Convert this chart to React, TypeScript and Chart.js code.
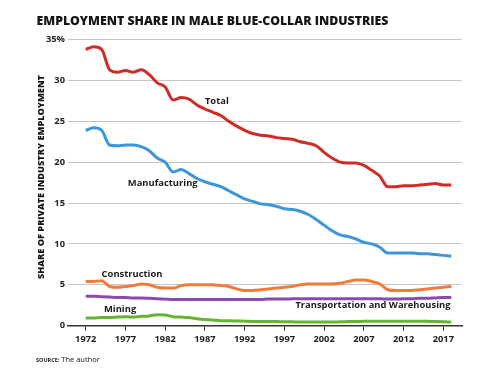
import React, { useEffect, useRef } from "react";
import { Chart, registerables } from "chart.js";

Chart.register(...registerables);

const years = [
  1972, 1973, 1974, 1975, 1976, 1977, 1978, 1979, 1980, 1981, 1982, 1983, 1984, 1985, 1986, 1987,
  1988, 1989, 1990, 1991, 1992, 1993, 1994, 1995, 1996, 1997, 1998, 1999, 2000, 2001, 2002, 2003,
  2004, 2005, 2006, 2007, 2008, 2009, 2010, 2011, 2012, 2013, 2014, 2015, 2016, 2017, 2018,
];

const total = [
  33.8, 34.1, 33.8, 31.3, 31.0, 31.2, 31.0, 31.3, 30.7, 29.7, 29.2, 27.6, 27.9, 27.7, 27.0, 26.5,
  26.1, 25.7, 25.0, 24.4, 23.9, 23.5, 23.3, 23.2, 23.0, 22.9, 22.8, 22.5, 22.3, 22.0, 21.2, 20.5,
  20.0, 19.9, 19.9, 19.6, 19.0, 18.3, 17.0, 17.0, 17.1, 17.1, 17.2, 17.3, 17.4, 17.2, 17.2,
];

const manufacturing = [
  23.9, 24.2, 23.9, 22.1, 22.0, 22.1, 22.1, 21.9, 21.4, 20.5, 20.0, 18.8, 19.1, 18.6, 18.0, 17.6,
  17.3, 17.0, 16.5, 16.0, 15.5, 15.2, 14.9, 14.8, 14.6, 14.3, 14.2, 14.0, 13.6, 13.0, 12.3, 11.6,
  11.1, 10.9, 10.6, 10.2, 10.0, 9.6, 8.9, 8.9, 8.9, 8.9, 8.8, 8.8, 8.7, 8.6, 8.5,
];

const construction = [
  5.4, 5.4, 5.5, 4.8, 4.7, 4.8, 4.9, 5.1, 5.0, 4.7, 4.6, 4.6, 4.9, 5.0, 5.0, 5.0,
  5.0, 4.9, 4.8, 4.5, 4.3, 4.3, 4.4, 4.5, 4.6, 4.7, 4.8, 5.0, 5.1, 5.1, 5.1, 5.1,
  5.2, 5.4, 5.6, 5.6, 5.4, 5.1, 4.4, 4.3, 4.3, 4.3, 4.4, 4.5, 4.6, 4.7, 4.8,
];

const transportation = [
  3.6, 3.6, 3.55, 3.5, 3.45, 3.45, 3.4, 3.4, 3.35, 3.3, 3.25, 3.2, 3.2, 3.2, 3.2, 3.2,
  3.2, 3.2, 3.2, 3.2, 3.2, 3.2, 3.2, 3.25, 3.25, 3.25, 3.3, 3.3, 3.3, 3.3, 3.3, 3.3,
  3.3, 3.3, 3.3, 3.3, 3.3, 3.3, 3.25, 3.25, 3.3, 3.3, 3.35, 3.35, 3.4, 3.45, 3.45,
];

const mining = [
  0.95, 0.95, 1.0, 1.0, 1.05, 1.1, 1.05, 1.15, 1.2, 1.35, 1.3, 1.1, 1.05, 1.0, 0.85, 0.75,
  0.7, 0.6, 0.6, 0.58, 0.55, 0.52, 0.5, 0.5, 0.5, 0.48, 0.47, 0.45, 0.45, 0.45, 0.45, 0.45,
  0.47, 0.5, 0.52, 0.53, 0.55, 0.55, 0.55, 0.55, 0.55, 0.55, 0.55, 0.55, 0.5, 0.47, 0.45,
];

const tickYears = [1972, 1977, 1982, 1987, 1992, 1997, 2002, 2007, 2012, 2017];
const yTicks = [0, 5, 10, 15, 20, 25, 30, 35];

const seriesLabels = [
  { text: "Total", year: 1987.0, value: 27.4, align: "left" },
  { text: "Manufacturing", year: 1977.3, value: 17.45, align: "left" },
  { text: "Construction", year: 1974.0, value: 6.3, align: "left" },
  { text: "Mining", year: 1974.3, value: 2.05, align: "left" },
  { text: "Transportation and Warehousing", year: 2017.9, value: 2.45, align: "right" },
];

const FONT = "'Open Sans', 'DejaVu Sans', sans-serif";

const toPoints = (vals: number[]) => vals.map((v, i) => ({ x: years[i], y: v }));

export default function App() {
  const ref = useRef<HTMLCanvasElement | null>(null);

  useEffect(() => {
    if (!ref.current) return;

    const overlay = {
      id: "overlay",
      afterDraw(chart: any) {
        const ctx = chart.ctx;
        const xs = chart.scales.x;
        const ys = chart.scales.y;
        ctx.save();
        // title
        ctx.fillStyle = "#151515";
        ctx.font = `800 12.3px ${FONT}`;
        ctx.textBaseline = "middle";
        ctx.textAlign = "left";
        ctx.fillText("EMPLOYMENT SHARE IN MALE BLUE-COLLAR INDUSTRIES", 36.5, 21);
        // y title
        ctx.save();
        ctx.translate(41.5, 177);
        ctx.rotate(-Math.PI / 2);
        ctx.textAlign = "center";
        ctx.font = `800 9.2px ${FONT}`;
        ctx.fillText("SHARE OF PRIVATE INDUSTRY EMPLOYMENT", 0, 0);
        ctx.restore();
        // series labels
        ctx.font = `bold 9.4px ${FONT}`;
        ctx.fillStyle = "#1a1a1a";
        for (const l of seriesLabels) {
          ctx.textAlign = l.align as CanvasTextAlign;
          ctx.fillText(l.text, xs.getPixelForValue(l.year), ys.getPixelForValue(l.value));
        }
        // source
        ctx.textAlign = "left";
        ctx.font = `bold 5.5px ${FONT}`;
        const s1 = "SOURCE:";
        ctx.fillText(s1, 36, 360);
        const w = ctx.measureText(s1).width;
        ctx.font = `7.5px ${FONT}`;
        ctx.fillText(" The author", 36 + w, 360);
        ctx.restore();
      },
    };

    const mk = (label: string, vals: number[], color: string) => ({
      label,
      data: toPoints(vals),
      borderColor: color,
      backgroundColor: color,
      borderWidth: 3,
      pointRadius: 0,
      cubicInterpolationMode: "monotone",
      fill: false,
    });

    const chart = new Chart(ref.current, {
      type: "line",
      data: {
        datasets: [
          mk("Total", total, "#d12b26"),
          mk("Manufacturing", manufacturing, "#3c96dc"),
          mk("Construction", construction, "#f07b3b"),
          mk("Transportation and Warehousing", transportation, "#8a4bae"),
          mk("Mining", mining, "#64b632"),
        ],
      },
      options: {
        animation: false,
        responsive: false,
        maintainAspectRatio: false,
        layout: { padding: { left: 0, right: 19, top: 39.5, bottom: 0 } },
        plugins: {
          legend: { display: false },
          tooltip: { enabled: false },
          title: { display: false },
        },
        scales: {
          x: {
            type: "linear",
            min: 1969.77,
            max: 2019.35,
            afterBuildTicks: (s: any) => {
              s.ticks = tickYears.map((v) => ({ value: v }));
            },
            afterFit: (s: any) => {
              s.height = 65.3;
            },
            ticks: {
              callback: (v: any) => String(v),
              font: { family: FONT, size: 9.3, weight: "bold" },
              color: "#222",
              padding: 3,
              maxRotation: 0,
              autoSkip: false,
            },
            grid: {
              drawOnChartArea: false,
              drawTicks: true,
              tickLength: 5,
              color: "#333",
              lineWidth: 1,
            },
            border: { display: true, color: "#333", width: 1.5 },
          },
          y: {
            min: 0,
            max: 35,
            afterBuildTicks: (s: any) => {
              s.ticks = yTicks.map((v) => ({ value: v }));
            },
            afterFit: (s: any) => {
              s.width = 68;
            },
            ticks: {
              callback: (v: any) => (v === 35 ? "35%" : String(v)),
              font: { family: FONT, size: 9.3, weight: "bold" },
              color: "#222",
              padding: 3,
            },
            grid: {
              drawTicks: false,
              color: (c: any) => (c.tick && c.tick.value === 0 ? "rgba(0,0,0,0)" : "#c6c6c6"),
              lineWidth: 1,
            },
            border: { display: false },
          },
        },
      },
      plugins: [overlay],
    } as any);

    return () => chart.destroy();
  }, []);

  return (
    <div style={{ position: "fixed", left: 0, top: 0, width: 481, height: 391, background: "#fff" }}>
      <canvas ref={ref} width={481} height={391} style={{ width: 481, height: 391, display: "block" }} />
    </div>
  );
}
